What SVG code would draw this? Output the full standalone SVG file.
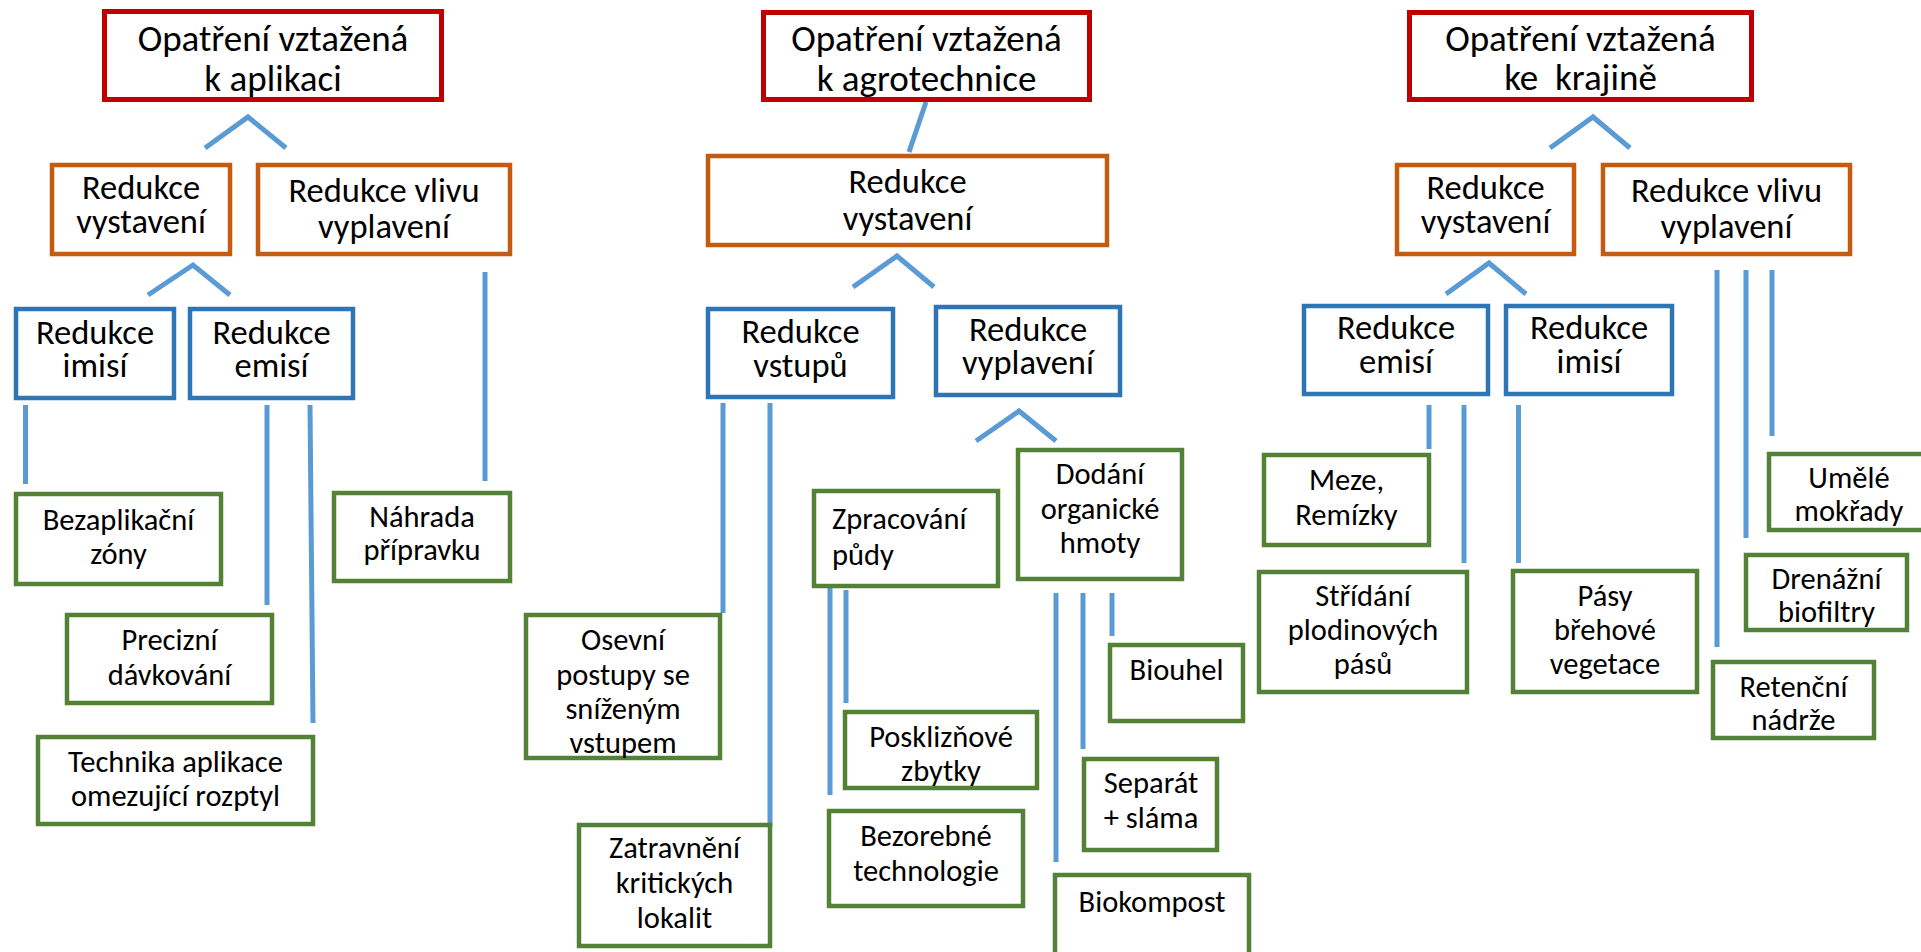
<svg xmlns="http://www.w3.org/2000/svg" width="1921" height="952" viewBox="0 0 1921 952">
<style>
.r{fill:#fff;stroke:#C00000;stroke-width:5}
.o{fill:#fff;stroke:#C55A11;stroke-width:4.5}
.b{fill:#fff;stroke:#2E75B6;stroke-width:4.5}
.g{fill:#fff;stroke:#538135;stroke-width:4.5}
text{font-family:Carlito,Calibri,Lato,"Open Sans",sans-serif;fill:#000;text-anchor:middle}
.tr{font-size:37px}
.to{font-size:34.5px}
.tb{font-size:34.5px}
.tg{font-size:30.5px}
.c{fill:none;stroke:#5B9BD5;stroke-width:5}
</style>
<rect width="1921" height="952" fill="#fff"/>
<g id="connectors" class="c">
<polyline points="205,148 248,117 286,148"/>
<polyline points="148,295 193,265 230,295"/>
<line x1="25.5" y1="405" x2="25.5" y2="484"/>
<line x1="267" y1="405" x2="267" y2="605"/>
<line x1="310" y1="405" x2="313" y2="723"/>
<line x1="485" y1="272" x2="485" y2="481"/>
<line x1="926" y1="102" x2="909" y2="152"/>
<polyline points="853,287 897,256 934,287"/>
<polyline points="976,441 1019,411 1056,441"/>
<line x1="723" y1="403" x2="723" y2="613"/>
<line x1="770" y1="403" x2="770" y2="827"/>
<line x1="830" y1="587" x2="830" y2="795"/>
<line x1="846" y1="590" x2="846" y2="703"/>
<line x1="1056" y1="593" x2="1056" y2="862"/>
<line x1="1083" y1="593" x2="1083" y2="749"/>
<line x1="1112" y1="593" x2="1112" y2="636"/>
<polyline points="1550,148 1593,117 1630,148"/>
<polyline points="1446,294 1489,263 1526,294"/>
<line x1="1429" y1="405" x2="1429" y2="449"/>
<line x1="1464" y1="405" x2="1464" y2="563"/>
<line x1="1518.5" y1="405" x2="1518.5" y2="563"/>
<line x1="1717" y1="270" x2="1717" y2="647"/>
<line x1="1746" y1="270" x2="1746" y2="538"/>
<line x1="1772" y1="270" x2="1772" y2="436"/>
</g>
<g id="a-top"><rect class="r" x="104.5" y="11.5" width="337" height="88"/><text class="tr" x="273" y="51">Opatření vztažená</text><text class="tr" x="273" y="91">k aplikaci</text></g>
<g id="a-vystaveni"><rect class="o" x="52" y="165" width="178" height="89"/><text class="to" x="141" y="199">Redukce</text><text class="to" x="141" y="233">vystavení</text></g>
<g id="a-vlivu"><rect class="o" x="258" y="165" width="252" height="89"/><text class="to" x="384" y="202">Redukce vlivu</text><text class="to" x="384" y="238">vyplavení</text></g>
<g id="a-imisi"><rect class="b" x="16" y="309" width="158" height="89"/><text class="tb" x="95" y="344">Redukce</text><text class="tb" x="95" y="377">imisí</text></g>
<g id="a-emisi"><rect class="b" x="190" y="309" width="163" height="89"/><text class="tb" x="271.5" y="344">Redukce</text><text class="tb" x="271.5" y="377">emisí</text></g>
<g id="a-bezaplikacni"><rect class="g" x="16" y="494" width="205" height="90"/><text class="tg" x="118.5" y="530">Bezaplikační</text><text class="tg" x="118.5" y="564">zóny</text></g>
<g id="a-precizni"><rect class="g" x="67" y="615" width="205" height="88"/><text class="tg" x="169.5" y="650">Precizní</text><text class="tg" x="169.5" y="685">dávkování</text></g>
<g id="a-technika"><rect class="g" x="38" y="737" width="275" height="87"/><text class="tg" x="175.5" y="772">Technika aplikace</text><text class="tg" x="175.5" y="806">omezující rozptyl</text></g>
<g id="a-nahrada"><rect class="g" x="334" y="493" width="176" height="88"/><text class="tg" x="422" y="527">Náhrada</text><text class="tg" x="422" y="560">přípravku</text></g>
<g id="b-top"><rect class="r" x="763.5" y="12.5" width="326" height="87"/><text class="tr" x="926.5" y="51">Opatření vztažená</text><text class="tr" x="926.5" y="91">k agrotechnice</text></g>
<g id="b-vystaveni"><rect class="o" x="708" y="156" width="399" height="89"/><text class="to" x="907.5" y="193">Redukce</text><text class="to" x="907.5" y="230">vystavení</text></g>
<g id="b-vstupu"><rect class="b" x="708" y="309" width="185" height="88"/><text class="tb" x="800.5" y="343">Redukce</text><text class="tb" x="800.5" y="377">vstupů</text></g>
<g id="b-vyplaveni"><rect class="b" x="936" y="307" width="184" height="88"/><text class="tb" x="1028" y="341">Redukce</text><text class="tb" x="1028" y="374">vyplavení</text></g>
<g id="b-osevni"><rect class="g" x="526" y="615" width="194" height="143"/><text class="tg" x="623" y="650">Osevní</text><text class="tg" x="623" y="685">postupy se</text><text class="tg" x="623" y="719">sníženým</text><text class="tg" x="623" y="753">vstupem</text></g>
<g id="b-zatravneni"><rect class="g" x="579" y="825" width="191" height="121"/><text class="tg" x="674.5" y="858">Zatravnění</text><text class="tg" x="674.5" y="893">kritických</text><text class="tg" x="674.5" y="928">lokalit</text></g>
<g id="b-zpracovani"><rect class="g" x="814" y="491" width="184" height="95"/><text class="tg" x="832" y="529" style="text-anchor:start">Zpracování</text><text class="tg" x="832" y="565" style="text-anchor:start">půdy</text></g>
<g id="b-posklizni"><rect class="g" x="845" y="712" width="192" height="76"/><text class="tg" x="941" y="747">Posklizňové</text><text class="tg" x="941" y="781">zbytky</text></g>
<g id="b-bezorebne"><rect class="g" x="829" y="811" width="194" height="95"/><text class="tg" x="926" y="846">Bezorebné</text><text class="tg" x="926" y="881">technologie</text></g>
<g id="b-dodani"><rect class="g" x="1018" y="450" width="164" height="129"/><text class="tg" x="1100" y="484">Dodání</text><text class="tg" x="1100" y="519">organické</text><text class="tg" x="1100" y="553">hmoty</text></g>
<g id="b-biouhel"><rect class="g" x="1110" y="645" width="133" height="76"/><text class="tg" x="1176.5" y="680">Biouhel</text></g>
<g id="b-separat"><rect class="g" x="1084" y="759" width="133" height="91"/><text class="tg" x="1151" y="793">Separát</text><text class="tg" x="1151" y="828">+ sláma</text></g>
<g id="b-biokompost"><rect class="g" x="1055" y="875" width="194" height="90"/><text class="tg" x="1152" y="912">Biokompost</text></g>
<g id="c-top"><rect class="r" x="1409.5" y="12.5" width="342" height="87"/><text class="tr" x="1580.5" y="51">Opatření vztažená</text><text class="tr" x="1580.5" y="90" style="white-space:pre">ke  krajině</text></g>
<g id="c-vystaveni"><rect class="o" x="1397" y="165" width="177" height="89"/><text class="to" x="1485.5" y="199">Redukce</text><text class="to" x="1485.5" y="233">vystavení</text></g>
<g id="c-vlivu"><rect class="o" x="1603" y="165" width="247" height="89"/><text class="to" x="1726.5" y="202">Redukce vlivu</text><text class="to" x="1726.5" y="238">vyplavení</text></g>
<g id="c-emisi"><rect class="b" x="1304" y="306" width="184" height="88"/><text class="tb" x="1396" y="339">Redukce</text><text class="tb" x="1396" y="373">emisí</text></g>
<g id="c-imisi"><rect class="b" x="1506" y="306" width="166" height="88"/><text class="tb" x="1589" y="339">Redukce</text><text class="tb" x="1589" y="373">imisí</text></g>
<g id="c-meze"><rect class="g" x="1264" y="455" width="165" height="90"/><text class="tg" x="1346.5" y="490">Meze,</text><text class="tg" x="1346.5" y="525">Remízky</text></g>
<g id="c-stridani"><rect class="g" x="1259" y="572" width="208" height="120"/><text class="tg" x="1363" y="606">Střídání</text><text class="tg" x="1363" y="640">plodinových</text><text class="tg" x="1363" y="674">pásů</text></g>
<g id="c-pasy"><rect class="g" x="1513" y="571" width="184" height="121"/><text class="tg" x="1605" y="606">Pásy</text><text class="tg" x="1605" y="640">břehové</text><text class="tg" x="1605" y="674">vegetace</text></g>
<g id="c-umele"><rect class="g" x="1769" y="454" width="160" height="76"/><text class="tg" x="1849" y="488">Umělé</text><text class="tg" x="1849" y="521">mokřady</text></g>
<g id="c-drenazni"><rect class="g" x="1746" y="555" width="161" height="75"/><text class="tg" x="1826.5" y="589">Drenážní</text><text class="tg" x="1826.5" y="622">biofiltry</text></g>
<g id="c-retencni"><rect class="g" x="1713" y="662" width="161" height="76"/><text class="tg" x="1793.5" y="697">Retenční</text><text class="tg" x="1793.5" y="730">nádrže</text></g>
</svg>
